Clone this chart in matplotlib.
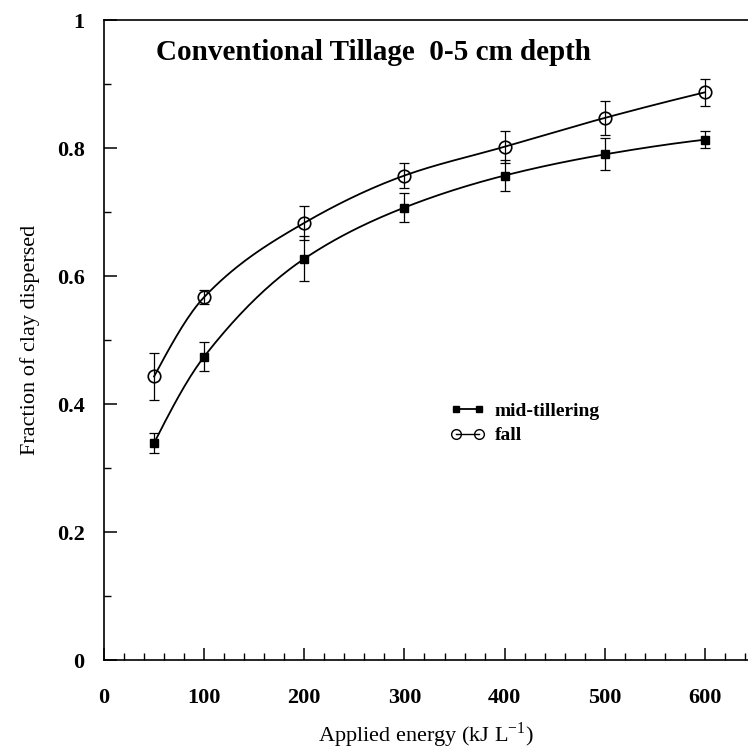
import numpy as np
import matplotlib
matplotlib.use("Agg")
import matplotlib.pyplot as plt
from matplotlib.ticker import MultipleLocator, FixedLocator

# ---- data ----
energy = [50, 100, 200, 300, 400, 500, 600]
mid_tillering = [0.339, 0.474, 0.627, 0.707, 0.757, 0.790, 0.813]
mid_tillering_err = [0.016, 0.023, 0.035, 0.023, 0.024, 0.025, 0.013]
fall = [0.443, 0.567, 0.683, 0.757, 0.802, 0.847, 0.887]
fall_err = [0.036, 0.011, 0.026, 0.019, 0.025, 0.026, 0.021]
x_ticks = [0, 100, 200, 300, 400, 500, 600]
y_ticks = [0, 0.2, 0.4, 0.6, 0.8, 1.0]
y_tick_labels = ["0", "0.2", "0.4", "0.6", "0.8", "1"]
title = "Conventional Tillage  0-5 cm depth"


def pchip(x, y, n=200):
    x = np.asarray(x, float)
    y = np.asarray(y, float)
    h = np.diff(x)
    d = np.diff(y) / h
    m = np.zeros_like(y)
    for k in range(1, len(x) - 1):
        if d[k - 1] * d[k] > 0:
            w1 = 2 * h[k] + h[k - 1]
            w2 = h[k] + 2 * h[k - 1]
            m[k] = (w1 + w2) / (w1 / d[k - 1] + w2 / d[k])
    m[0] = ((2 * h[0] + h[1]) * d[0] - h[0] * d[1]) / (h[0] + h[1])
    m[-1] = ((2 * h[-1] + h[-2]) * d[-1] - h[-1] * d[-2]) / (h[-1] + h[-2])
    xs = np.linspace(x[0], x[-1], n)
    idx = np.clip(np.searchsorted(x, xs) - 1, 0, len(x) - 2)
    t = (xs - x[idx]) / h[idx]
    h00 = 2 * t**3 - 3 * t**2 + 1
    h10 = t**3 - 2 * t**2 + t
    h01 = -2 * t**3 + 3 * t**2
    h11 = t**3 - t**2
    ys = h00 * y[idx] + h10 * h[idx] * m[idx] + h01 * y[idx + 1] + h11 * h[idx] * m[idx + 1]
    return xs, ys


plt.rcParams["font.family"] = ["Liberation Serif", "DejaVu Serif"]

fig = plt.figure(figsize=(7.48, 7.55), dpi=100)
ax = fig.add_axes([104 / 748, 95 / 755, (748 - 104) / 748, 640 / 755])

# curves
for yv in (mid_tillering, fall):
    xs, ys = pchip(energy, yv)
    ax.plot(xs, ys, color="black", lw=1.3, zorder=2)

ax.errorbar(energy, mid_tillering, yerr=mid_tillering_err, fmt="none",
            ecolor="black", elinewidth=0.9, capsize=3.5, capthick=0.9, zorder=3)
ax.errorbar(energy, fall, yerr=fall_err, fmt="none",
            ecolor="black", elinewidth=0.9, capsize=3.5, capthick=0.9, zorder=3)
ax.plot(energy, mid_tillering, linestyle="none", marker="s", ms=6,
        mfc="black", mec="black", zorder=4)
ax.plot(energy, fall, linestyle="none", marker="o", ms=9,
        mfc="none", mec="black", mew=1.2, zorder=4)

# legend (manual handles)
lh1, = ax.plot([], [], color="black", marker="s", ms=5, lw=1.3)
lh2, = ax.plot([], [], color="black", marker="o", ms=7, mfc="none", lw=1.0)
leg = ax.legend([lh1, lh2], ["mid-tillering", "fall"], loc="upper left",
                bbox_to_anchor=(0.51, 0.43), frameon=False, numpoints=2,
                handlelength=1.8, handletextpad=0.5, labelspacing=0.35,
                prop={"weight": "bold", "size": 14})

ax.set_xlim(0, 643)
ax.set_ylim(0, 1)
ax.spines["right"].set_visible(False)
for s in ("left", "bottom", "top"):
    ax.spines[s].set_linewidth(1.2)

ax.xaxis.set_major_locator(FixedLocator(x_ticks))
ax.xaxis.set_minor_locator(MultipleLocator(20))
ax.yaxis.set_major_locator(FixedLocator(y_ticks))
ax.yaxis.set_minor_locator(MultipleLocator(0.1))
ax.set_yticklabels(y_tick_labels)
ax.tick_params(axis="both", which="major", direction="in", length=9, width=1.1,
               labelsize=16)
ax.tick_params(axis="both", which="minor", direction="in", length=5, width=1.0)
ax.tick_params(axis="x", which="both", pad=20)
ax.tick_params(axis="y", which="both", pad=14)
for lab in ax.get_xticklabels() + ax.get_yticklabels():
    lab.set_fontweight("bold")

ax.set_xlabel("Applied energy (kJ L$^{\\mathregular{-1}}$)", fontsize=16, labelpad=9)
ax.set_ylabel("Fraction of clay dispersed", fontsize=16, labelpad=12)

ax.text(0.08, 0.95, title, transform=ax.transAxes, fontsize=21,
        fontweight="bold", ha="left", va="center")

fig.savefig("out.png", dpi=100)
